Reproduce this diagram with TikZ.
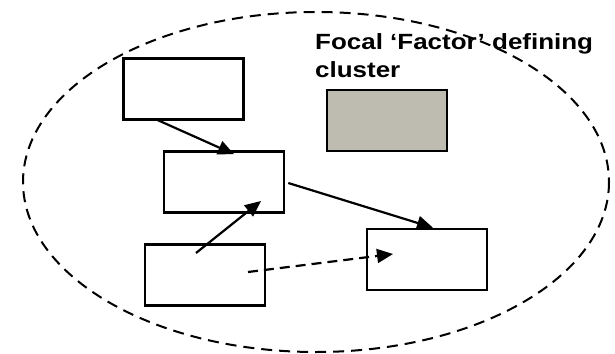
\documentclass[tikz,border=0pt]{standalone}
\usepackage{fontspec}
\setmainfont{Liberation Sans}
\newfontfamily\labelfont[FakeStretch=1.18]{Liberation Sans}
\usepackage{xcolor}
\usepackage{tikz}
\usetikzlibrary{calc, arrows.meta}
\definecolor{focalGray}{HTML}{BEBCB0}

\begin{document}
\begin{tikzpicture}[x=1pt, y=-1pt,
    factorBox/.style={draw, line width=2.6pt, minimum width=120pt, minimum height=61pt, inner sep=0pt},
    link/.style={line width=2.2pt, -{Triangle[length=16pt, width=14pt]}}]
    \useasboundingbox (0,0) rectangle (615,353);

    % cluster boundary
    \draw[line width=2pt, dash pattern=on 11pt off 7pt] (316,182) ellipse [x radius=293, y radius=170];

    \node[factorBox] (topBox) at (183.5,89) {};
    \node[factorBox] (midBox) at (224,182) {};
    \node[factorBox] (lowBox) at (205,275) {};
    \node[factorBox] (rightBox) at (427,259.5) {};
    \node[factorBox, fill=focalGray] (focalBox) at (387,120.5) {};

    \node[anchor=north west, inner sep=0pt, align=left, font=\labelfont\bfseries\fontsize{22}{28}\selectfont] (focalLabel) at (315,33) {Focal ‘Factor’ defining\\cluster};

    \draw[link] ([xshift=-26.5pt, yshift=1pt]topBox.south) -- ([xshift=10pt, yshift=-4pt]midBox.north);
    \draw[link] ([xshift=3pt, yshift=-1pt]midBox.east) -- ([xshift=6pt]rightBox.north);
    \draw[link] ([xshift=-9pt, yshift=22pt]lowBox.center) -- ([xshift=37pt, yshift=-19pt]midBox.center);
    \draw[link, dash pattern=on 10pt off 6pt] ([xshift=43pt, yshift=3pt]lowBox.center) -- ([xshift=-34pt, yshift=5.5pt]rightBox.center);
\end{tikzpicture}
\end{document}
